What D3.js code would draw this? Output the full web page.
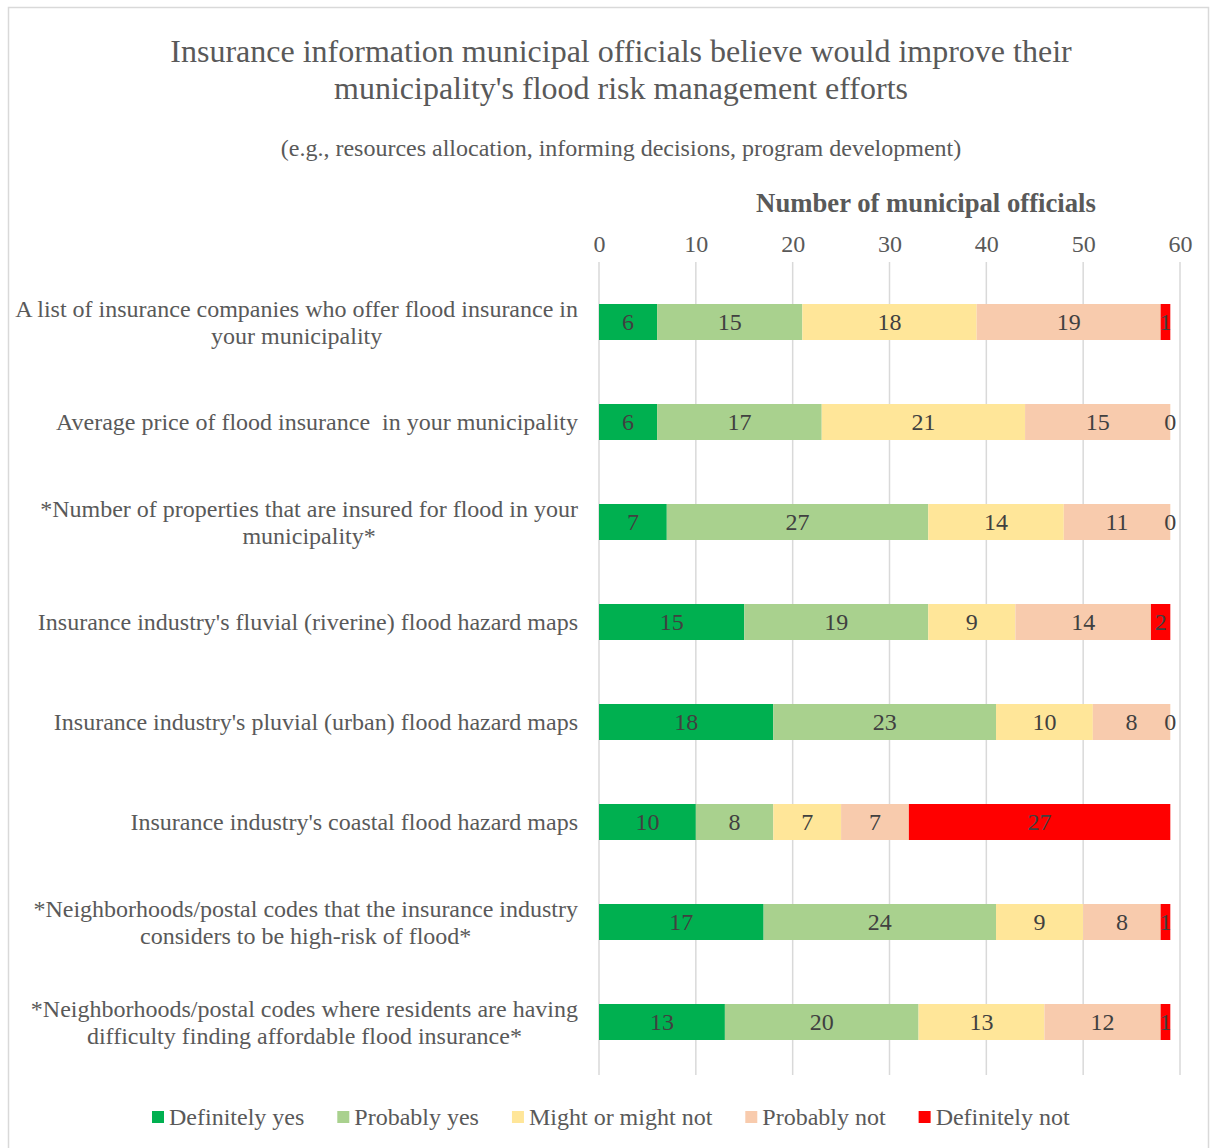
<!DOCTYPE html>
<meta charset="utf-8">
<title>Flood insurance information</title>
<style>
    body { margin: 0; background: #fff; }
    text { font-family: "Liberation Serif", "Times New Roman", serif; }
</style>
<script src="https://d3js.org/d3.v7.js"></script>
<body>
<script>
    // categories (each one split into its display lines)
    const categories = [
        ["A list of insurance companies who offer flood insurance in", "your municipality"],
        ["Average price of flood insurance  in your municipality"],
        ["*Number of properties that are insured for flood in your", "municipality*"],
        ["Insurance industry's fluvial (riverine) flood hazard maps"],
        ["Insurance industry's pluvial (urban) flood hazard maps"],
        ["Insurance industry's coastal flood hazard maps"],
        ["*Neighborhoods/postal codes that the insurance industry", "considers to be high-risk of flood*"],
        ["*Neighborhoods/postal codes where residents are having", "difficulty finding affordable flood insurance*"]
    ];

    const seriesNames = ["Definitely yes", "Probably yes", "Might or might not", "Probably not", "Definitely not"];
    const seriesColors = ["#00b050", "#a9d18e", "#ffe699", "#f8cbad", "#ff0000"];

    const definitelyYes = [6, 6, 7, 15, 18, 10, 17, 13];
    const probablyYes   = [15, 17, 27, 19, 23, 8, 24, 20];
    const mightOrNot    = [18, 21, 14, 9, 10, 7, 9, 13];
    const probablyNot   = [19, 15, 11, 14, 8, 7, 8, 12];
    const definitelyNot = [1, 0, 0, 2, 0, 27, 1, 1];

    const xTicks = [0, 10, 20, 30, 40, 50, 60];

    const W = 1210, H = 1148;
    const plot = { left: 599, right: 1180, top: 272, bottom: 1072 };

    const svg = d3.select("body").append("svg")
        .attr("width", W)
        .attr("height", H);

    // chart border
    svg.append("rect")
        .attr("x", 8.5).attr("y", 7.5)
        .attr("width", 1200).attr("height", 1160)
        .attr("fill", "none")
        .attr("stroke", "#d9d9d9")
        .attr("stroke-width", 1.5);

    // titles
    const titleLines = ["Insurance information municipal officials believe would improve their",
        "municipality's flood risk management efforts"];
    svg.selectAll(".title")
        .data(titleLines)
        .join("text")
        .attr("x", 621)
        .attr("y", (d, i) => 62 + i * 37)
        .attr("text-anchor", "middle")
        .style("font-size", "32px")
        .style("fill", "#595959")
        .text(d => d);

    svg.append("text")
        .attr("x", 621).attr("y", 156)
        .attr("text-anchor", "middle")
        .style("font-size", "24px")
        .style("fill", "#595959")
        .text("(e.g., resources allocation, informing decisions, program development)");

    // scales
    const x = d3.scaleLinear().domain([0, 60]).range([plot.left, plot.right]);
    const y = d3.scaleBand()
        .domain(d3.range(categories.length))
        .range([plot.top, plot.bottom])
        .paddingInner(0.64)
        .paddingOuter(0.32);

    // axis title
    svg.append("text")
        .attr("x", 926).attr("y", 212)
        .attr("text-anchor", "middle")
        .style("font-size", "26.7px")
        .style("font-weight", "bold")
        .style("fill", "#595959")
        .text("Number of municipal officials");

    // gridlines
    svg.append("g")
        .selectAll("line")
        .data(xTicks)
        .join("line")
        .attr("x1", d => x(d)).attr("x2", d => x(d))
        .attr("y1", 262).attr("y2", 1075)
        .attr("stroke", "#d9d9d9")
        .attr("stroke-width", 1.5);

    // top axis (tick labels only)
    const xAxis = svg.append("g")
        .attr("transform", "translate(0,244)")
        .call(d3.axisTop(x).tickValues(xTicks).tickSize(0).tickPadding(0));
    xAxis.select(".domain").remove();
    xAxis.selectAll("text")
        .attr("dy", "0.35em")
        .style("font-family", "Liberation Serif, serif")
        .style("font-size", "24px")
        .style("fill", "#595959");

    // stack
    const rows = categories.map((c, i) => ({
        idx: i,
        "Definitely yes": definitelyYes[i],
        "Probably yes": probablyYes[i],
        "Might or might not": mightOrNot[i],
        "Probably not": probablyNot[i],
        "Definitely not": definitelyNot[i]
    }));
    const stacked = d3.stack().keys(seriesNames)(rows);
    const color = d3.scaleOrdinal().domain(seriesNames).range(seriesColors);

    const layers = svg.append("g")
        .selectAll("g")
        .data(stacked)
        .join("g")
        .attr("fill", d => color(d.key));

    layers.selectAll("rect")
        .data(d => d)
        .join("rect")
        .attr("x", d => x(d[0]))
        .attr("y", d => y(d.data.idx))
        .attr("width", d => x(d[1]) - x(d[0]))
        .attr("height", y.bandwidth());

    // value labels
    svg.append("g")
        .selectAll("g")
        .data(stacked)
        .join("g")
        .selectAll("text")
        .data(d => d.map(s => ({ s: s, v: s[1] - s[0] })))
        .join("text")
        .attr("x", d => (x(d.s[0]) + x(d.s[1])) / 2)
        .attr("y", d => y(d.s.data.idx) + y.bandwidth() / 2)
        .attr("dy", "0.35em")
        .attr("text-anchor", "middle")
        .style("font-size", "24px")
        .style("fill", "#404040")
        .text(d => d.v);

    // category labels (centred block, right edge at 578)
    const catG = svg.append("g");
    categories.forEach((lines, i) => {
        const g = catG.append("g");
        const texts = g.selectAll("text")
            .data(lines)
            .join("text")
            .attr("y", (d, j) => y(i) + y.bandwidth() / 2 + (j - (lines.length - 1) / 2) * 27)
            .attr("dy", "0.35em")
            .attr("text-anchor", "middle")
            .style("white-space", "pre")
            .style("font-size", "24px")
            .style("fill", "#595959")
            .text(d => d);
        let maxW = 0;
        texts.each(function () { maxW = Math.max(maxW, this.getComputedTextLength()); });
        texts.attr("x", 578 - maxW / 2);
    });

    // legend
    const legend = svg.append("g").attr("transform", "translate(0,1117)");
    let lx = 152;
    seriesNames.forEach((name, i) => {
        legend.append("rect")
            .attr("x", lx).attr("y", -6)
            .attr("width", 12).attr("height", 12)
            .attr("fill", seriesColors[i]);
        const t = legend.append("text")
            .attr("x", lx + 17).attr("y", 0)
            .attr("dy", "0.35em")
            .style("font-size", "24px")
            .style("fill", "#595959")
            .text(name);
        lx += 17 + t.node().getComputedTextLength() + 33;
    });
</script>
</body>
